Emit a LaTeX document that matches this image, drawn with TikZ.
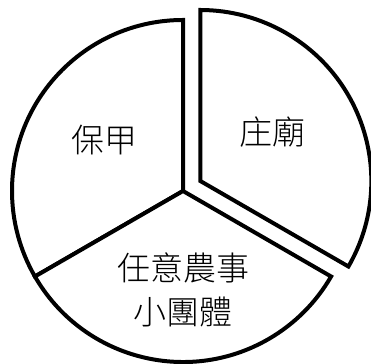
\documentclass[tikz,border=0pt]{standalone}
\usepackage{fontspec}
\usetikzlibrary{calc}
\newfontfamily\cjk{Noto Sans CJK TC}[UprightFont={* Light}]
\begin{document}
\begin{tikzpicture}[x=1pt,y=1pt,
  sector/.style={draw=black,line width=4pt,line join=miter,fill=white},
  lbl/.style={font=\cjk\fontsize{33}{44}\selectfont,align=center,inner sep=0pt}]
\useasboundingbox (0,0) rectangle (371,363);
\coordinate (c) at (183,172);
\coordinate (c2) at ($(c)+(30:20)$);
\draw[sector] (c) -- ++(90:171) arc[start angle=90,end angle=210,radius=171] -- cycle;
\draw[sector] (c) -- ++(210:171) arc[start angle=210,end angle=330,radius=171] -- cycle;
\draw[sector] (c2) -- ++(-30:171) arc[start angle=-30,end angle=90,radius=171] -- cycle;
\node[lbl] (baojia) at (104,223) {保甲};
\node[lbl] (zhuangmiao) at (272,231) {庄廟};
\node[lbl] (renyi) at (183,73) {任意農事\\小團體};
\end{tikzpicture}
\end{document}
